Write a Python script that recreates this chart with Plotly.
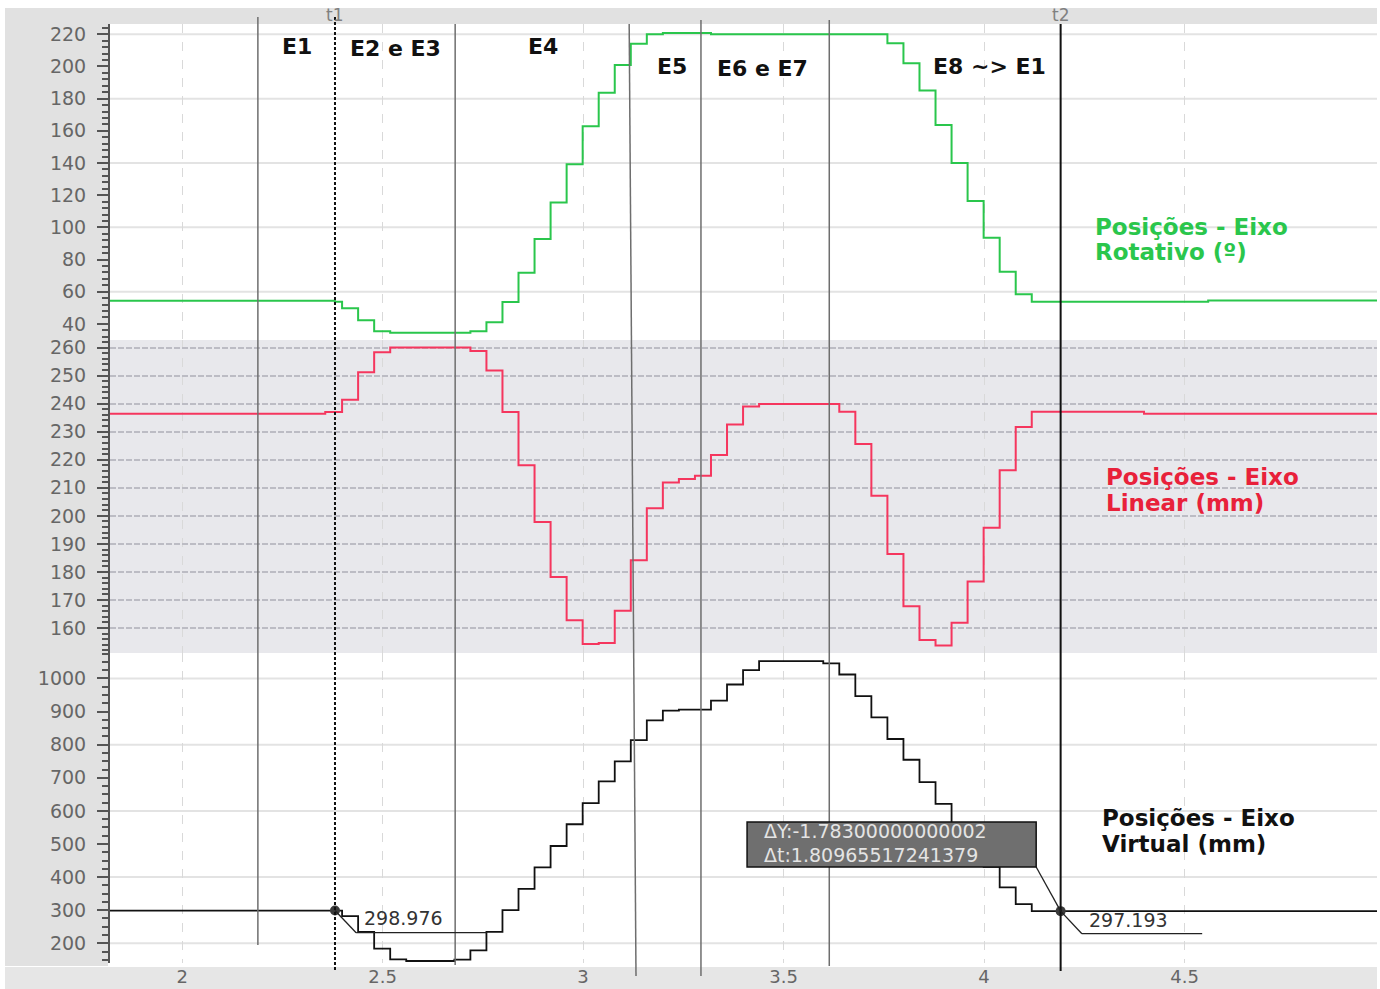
import plotly.graph_objects as go
from plotly.subplots import make_subplots

# ---------------- data ----------------
# Rotary axis position (deg) - step changes
t_rot = [1.820, 2.381, 2.399, 2.439, 2.479, 2.519, 2.719, 2.759, 2.799, 2.839,
         2.879, 2.919, 2.959, 2.999, 3.039, 3.079, 3.119, 3.159, 3.199, 3.319,
         3.759, 3.799, 3.839, 3.879, 3.919, 3.959, 3.999, 4.039, 4.079, 4.119,
         4.559, 4.980]
rot_pos = [54.4, 53.8, 49.8, 42.2, 35.5, 34.5, 35.5, 41.1, 53.6, 71.8,
           92.7, 115.5, 139.2, 162.8, 183.7, 200.9, 214.2, 220.0, 220.8, 220.0,
           214.4, 202.0, 185.0, 163.6, 140.0, 116.4, 93.6, 72.4, 58.5, 53.8,
           54.6, 54.6]

# Linear axis position (mm)
t_lin = [1.820, 2.357, 2.399, 2.439, 2.479, 2.519, 2.719, 2.759, 2.799, 2.839,
         2.879, 2.919, 2.959, 2.999, 3.039, 3.079, 3.119, 3.159, 3.199, 3.239,
         3.279, 3.319, 3.359, 3.399, 3.439, 3.639, 3.679, 3.719, 3.759, 3.799,
         3.839, 3.879, 3.919, 3.959, 3.999, 4.039, 4.079, 4.119, 4.399, 4.980]
lin_pos = [236.4, 237.0, 241.4, 251.2, 258.3, 260.0, 258.8, 251.8, 237.0, 218.0,
           197.8, 178.2, 162.8, 154.3, 154.7, 166.2, 184.2, 202.7, 211.9, 213.1,
           214.3, 221.7, 232.6, 239.0, 239.9, 237.1, 225.6, 207.2, 186.4, 167.8,
           155.7, 153.8, 161.9, 176.6, 195.8, 216.3, 231.7, 237.1, 236.4, 236.4]

# Virtual axis position (mm)
t_virt = [1.820, 2.399, 2.439, 2.479, 2.519, 2.559, 2.679, 2.719, 2.759, 2.799,
          2.839, 2.879, 2.919, 2.959, 2.999, 3.039, 3.079, 3.119, 3.159, 3.199,
          3.239, 3.319, 3.359, 3.399, 3.439, 3.599, 3.639, 3.679, 3.719, 3.759,
          3.799, 3.839, 3.879, 3.919, 3.959, 3.999, 4.039, 4.079, 4.119, 4.980]
virt_pos = [299.0, 282.0, 234.3, 183.8, 151.5, 146.5, 150.5, 178.8, 234.3, 300.0,
            364.6, 429.3, 494.0, 559.6, 623.2, 688.9, 749.5, 814.1, 873.7, 903.0,
            906.0, 933.3, 981.8, 1025.3, 1052.5, 1045.5, 1012.0, 946.5, 882.8, 817.2,
            754.5, 686.9, 621.2, 560.6, 497.0, 431.3, 368.7, 318.2, 297.2, 297.2]

# Cursors
cursor_names = ["t1", "t2"]
cursor_t = [2.3813, 4.1910]
cursor_val = [298.976, 297.193]
delta_y_txt = "ΔY:-1.78300000000002"
delta_t_txt = "Δt:1.80965517241379"

# Phase separators (time) and phase labels
phase_line_t = [2.189, 2.681, 3.294, 3.614]
phase_slant_t = [3.115, 3.132]          # slightly slanted separator (top, bottom)
phase_labels = ["E1", "E2 e E3", "E4", "E5", "E6 e E7", "E8 ~> E1"]
phase_label_t = [2.287, 2.531, 2.900, 3.222, 3.447, 4.013]

rot_grid = [60, 100, 140, 180, 220]
virt_grid = [200, 400, 600, 800, 1000]

# ---------------- figure ----------------
W, H = 1380, 989
ML, MR, MT, MB = 110, 3, 24, 26
PW, PH = W - ML - MR, H - MT - MB


def py(ypx):
    return (H - MB - ypx) / PH


def px(xpx):
    return (xpx - ML) / PW


GREEN = "#2ac64c"
RED = "#f5365e"
BLACK = "#111111"
TICKC = "#666666"
FONT = "DejaVu Sans"

fig = make_subplots(rows=3, cols=1, shared_xaxes=True, vertical_spacing=0)

fig.add_trace(go.Scatter(x=t_rot, y=rot_pos, mode="lines", line=dict(color=GREEN, width=2, shape="hv"),
                         showlegend=False, hoverinfo="skip"), row=1, col=1)
fig.add_trace(go.Scatter(x=t_lin, y=lin_pos, mode="lines", line=dict(color=RED, width=2, shape="hv"),
                         showlegend=False, hoverinfo="skip"), row=2, col=1)
fig.add_trace(go.Scatter(x=t_virt, y=virt_pos, mode="lines", line=dict(color=BLACK, width=1.8, shape="hv"),
                         showlegend=False, hoverinfo="skip"), row=3, col=1)
fig.add_trace(go.Scatter(x=cursor_t, y=cursor_val, mode="markers",
                         marker=dict(color="#3a3a3a", size=10), showlegend=False, hoverinfo="skip"),
              row=3, col=1)

xr = [1.8202, 4.980]
for r in (1, 2, 3):
    fig.update_xaxes(range=xr, showgrid=True, gridcolor="#d9d9d9", griddash="dash", gridwidth=1,
                     dtick=0.5, tick0=2, zeroline=False, showline=False, ticks="", automargin=False,
                     row=r, col=1)
fig.update_xaxes(showticklabels=True, tickfont=dict(family=FONT, size=18, color=TICKC),
                 ticklabelstandoff=1, row=3, col=1)

common_y = dict(showline=True, linecolor="#555555", linewidth=2, ticks="outside", ticklen=11,
                tickwidth=1.5, tickcolor="#555555", zeroline=False, automargin=False,
                tickfont=dict(family=FONT, size=19, color=TICKC), ticklabelstandoff=7)
fig.update_yaxes(range=[30, 226.4], dtick=20, tick0=0, showgrid=False,
                 minor=dict(dtick=4, ticks="outside", ticklen=6, tickcolor="#555555", showgrid=False),
                 domain=[py(340), 1.0], row=1, col=1, **common_y)
fig.update_yaxes(range=[151.1, 262.7], dtick=10, tick0=0, showgrid=True, gridcolor="#bcbcc4",
                 gridwidth=1.5, griddash="6px,2px",
                 minor=dict(dtick=2, ticks="outside", ticklen=6, tickcolor="#555555", showgrid=False),
                 domain=[py(653), py(340)], row=2, col=1, **common_y)
fig.update_yaxes(range=[140.5, 1077], dtick=100, tick0=0, showgrid=False,
                 minor=dict(dtick=25, ticks="outside", ticklen=6, tickcolor="#555555", showgrid=False),
                 domain=[0, py(653)], row=3, col=1, **common_y)

shapes = []
# gray frame bands
shapes.append(dict(type="rect", xref="paper", yref="paper", x0=px(5), x1=px(108), y0=py(966), y1=py(8),
                   fillcolor="#e1e1e1", line_width=0, layer="below"))
shapes.append(dict(type="rect", xref="paper", yref="paper", x0=px(5), x1=px(1377), y0=py(24), y1=py(8),
                   fillcolor="#e1e1e1", line_width=0, layer="below"))
shapes.append(dict(type="rect", xref="paper", yref="paper", x0=px(5), x1=px(1377), y0=py(989), y1=py(967),
                   fillcolor="#e6e6e6", line_width=0, layer="below"))
# middle panel background
shapes.append(dict(type="rect", xref="x2 domain", yref="y2 domain", x0=0, x1=1, y0=0, y1=1,
                   fillcolor="#e8e8ec", line_width=0, layer="below"))
# horizontal grid lines for top and bottom panels
for v in rot_grid:
    shapes.append(dict(type="line", xref="x domain", yref="y", x0=0, x1=1, y0=v, y1=v,
                       line=dict(color="#e3e3e3", width=2), layer="below"))
for v in virt_grid:
    shapes.append(dict(type="line", xref="x3 domain", yref="y3", x0=0, x1=1, y0=v, y1=v,
                       line=dict(color="#e3e3e3", width=2), layer="below"))
# phase separators
sep_ext = [(py(17), py(945)), (py(24), py(965)), (py(20), py(976)), (py(20), py(966))]
for t, (ya, yb) in zip(phase_line_t, sep_ext):
    shapes.append(dict(type="line", xref="x", yref="paper", x0=t, x1=t, y0=ya, y1=yb,
                       line=dict(color="#6e6e6e", width=1.5)))
shapes.append(dict(type="line", xref="x", yref="paper", x0=phase_slant_t[0], x1=phase_slant_t[1],
                   y0=py(24), y1=py(976), line=dict(color="#6e6e6e", width=1.5)))
# cursors
shapes.append(dict(type="line", xref="x", yref="paper", x0=cursor_t[0], x1=cursor_t[0], y0=py(17), y1=py(970),
                   line=dict(color="#111111", width=2, dash="3px,2px")))
shapes.append(dict(type="line", xref="x", yref="paper", x0=cursor_t[1], x1=cursor_t[1], y0=py(24), y1=py(971),
                   line=dict(color="#111111", width=2)))
# value label leaders
shapes.append(dict(type="line", xref="x3", yref="y3", x0=cursor_t[0], y0=cursor_val[0], x1=2.434, y1=232,
                   line=dict(color="#222222", width=1.3)))
shapes.append(dict(type="line", xref="x3", yref="y3", x0=2.434, y0=232, x1=2.760, y1=232,
                   line=dict(color="#222222", width=1.3)))
shapes.append(dict(type="line", xref="x3", yref="y3", x0=cursor_t[1], y0=cursor_val[1], x1=4.244, y1=229,
                   line=dict(color="#222222", width=1.3)))
shapes.append(dict(type="line", xref="x3", yref="y3", x0=4.244, y0=229, x1=4.544, y1=229,
                   line=dict(color="#222222", width=1.3)))
# delta tooltip
shapes.append(dict(type="line", xref="x3", yref="y3", x0=4.130, y0=430.5, x1=cursor_t[1], y1=cursor_val[1],
                   line=dict(color="#222222", width=1.3)))
shapes.append(dict(type="rect", xref="x3", yref="y3", x0=3.409, x1=4.130, y0=430.5, y1=566.5,
                   fillcolor="#6f6f6f", line=dict(color="#111111", width=1.5)))
fig.update_layout(shapes=shapes)

ann = []
for name, t in zip(cursor_names, cursor_t):
    ann.append(dict(xref="x", yref="paper", x=t, y=py(15), text=name, showarrow=False,
                    font=dict(family=FONT, size=17, color="#808080"), xanchor="center", yanchor="middle"))
label_y = [46, 48, 46, 67, 68, 67]
for lab, t, yy in zip(phase_labels, phase_label_t, label_y):
    ann.append(dict(xref="x", yref="paper", x=t, y=py(yy), text="<b>%s</b>" % lab, showarrow=False,
                    font=dict(family=FONT, size=22, color="#111111"), xanchor="center", yanchor="middle"))
side = [("Posições - Eixo", "Rotativo (º)", GREEN, 4.272, 227, 252),
        ("Posições - Eixo", "Linear (mm)", "#e8213a", 4.299, 477, 503),
        ("Posições - Eixo", "Virtual (mm)", "#111111", 4.289, 818, 844)]
for l1, l2, col, t, y1, y2 in side:
    for txt, yy in ((l1, y1), (l2, y2)):
        ann.append(dict(xref="x", yref="paper", x=t, y=py(yy), text="<b>%s</b>" % txt, showarrow=False,
                        font=dict(family=FONT, size=23, color=col), xanchor="left", yanchor="middle"))
ann.append(dict(xref="x3", yref="y3", x=2.449, y=276, text="%.3f" % cursor_val[0], showarrow=False,
                font=dict(family=FONT, size=19, color="#333333"), xanchor="left", yanchor="middle"))
ann.append(dict(xref="x3", yref="y3", x=4.257, y=270, text="%.3f" % cursor_val[1], showarrow=False,
                font=dict(family=FONT, size=19, color="#333333"), xanchor="left", yanchor="middle"))
ann.append(dict(xref="x3", yref="y3", x=3.446, y=539, text=delta_y_txt, showarrow=False,
                font=dict(family=FONT, size=19, color="#e4e4e4"), xanchor="left", yanchor="middle"))
ann.append(dict(xref="x3", yref="y3", x=3.446, y=466, text=delta_t_txt, showarrow=False,
                font=dict(family=FONT, size=19, color="#e4e4e4"), xanchor="left", yanchor="middle"))
fig.update_layout(annotations=ann)

fig.update_layout(width=W, height=H, margin=dict(l=ML, r=MR, t=MT, b=MB, pad=0, autoexpand=False),
                  paper_bgcolor="white", plot_bgcolor="white", showlegend=False,
                  font=dict(family=FONT))

fig.write_html("out.html", config={"displayModeBar": False},
               post_script="document.body.style.margin='0';")
